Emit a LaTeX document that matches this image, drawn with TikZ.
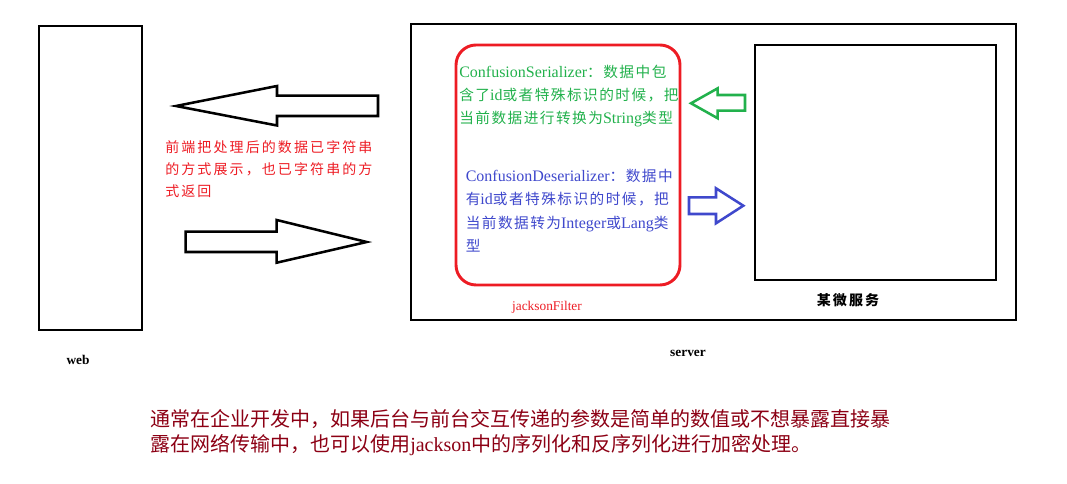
\documentclass[tikz,border=0pt]{standalone}
\usepackage{fontspec}
\setmainfont{Liberation Serif}
\newfontfamily\cjk[LetterSpace=15]{Noto Sans CJK SC}
\newfontfamily\cjkmid[LetterSpace=10]{Noto Sans CJK SC}
\newfontfamily\cjkplain{Noto Sans CJK SC}
\newcommand\lat[1]{{\rmfamily\fontsize{12}{17.5}\selectfont #1}}
\definecolor{paintred}{RGB}{237,28,36}
\definecolor{paintgreen}{RGB}{34,177,76}
\definecolor{paintblue}{RGB}{63,72,204}
\definecolor{notered}{RGB}{140,0,20}
\tikzset{
  frame/.style={line width=2.2pt},
  blockarrow/.style={line width=1.9pt, line join=miter},
  note/.style={anchor=north west, inner sep=0pt, align=left},
  tag/.style={inner sep=0pt, font=\fontsize{10}{12}\selectfont\bfseries},
}
\begin{document}
\begin{tikzpicture}[x=0.75pt,y=-0.75pt]
\useasboundingbox (0,0) rectangle (1067,484);
% web side
\draw[frame] (39,26) rectangle (142,330);
\node[tag] (web) at (78,360) {web};
\draw[blockarrow] (176,106) -- (277,86) -- (277,95.7) -- (378,95.7) -- (378,116) -- (277,116) -- (277,125.5) -- cycle;
\draw[blockarrow] (185.7,231.7) -- (276.7,231.7) -- (276.7,220) -- (366.7,242) -- (276.7,262.7) -- (276.7,252) -- (185.7,252) -- cycle;
\node[note, text=paintred, font=\cjk\fontsize{10.5}{16.6}\selectfont] (back) at (165,140.5)
  {前端把处理后的数据已字符串\\的方式展示，也已字符串的方\\式返回};
% server side
\draw[frame] (411,24) rectangle (1016,320);
\node[tag] (server) at (688,353) {server};
\draw[paintred, frame, rounded corners=15pt] (456,45) rectangle (680,285);
\node[inner sep=0pt, text=paintred, font=\fontsize{10}{12}\selectfont] (filter) at (547,307) {jacksonFilter};
\node[note, text=paintgreen, font=\cjkmid\fontsize{11}{17.5}\selectfont] (ser) at (459,64.5)
  {\lat{ConfusionSerializer}：数据中包\\含了\lat{id}或者特殊标识的时候，把\\当前数据进行转换为\lat{String}类型};
\node[note, text=paintblue, font=\cjkmid\fontsize{11}{17.5}\selectfont] (deser) at (465.5,169)
  {\lat{ConfusionDeserializer}：数据中\\有\lat{id}或者特殊标识的时候，把\\当前数据转为\lat{Integer}或\lat{Lang}类\\型};
\draw[paintgreen, blockarrow] (691,103.3) -- (717.7,88.3) -- (717.7,95) -- (745,95) -- (745,110.7) -- (717.7,110.7) -- (717.7,118.3) -- cycle;
\draw[paintblue, blockarrow] (689,197.3) -- (716,197.3) -- (716,188.3) -- (743.3,205.7) -- (716,223.3) -- (716,214) -- (689,214) -- cycle;
\draw[frame] (755,45) rectangle (996,280);
\node[inner sep=0pt, font=\cjk\fontsize{10.5}{12}\selectfont\bfseries] (service) at (848,300) {某微服务};
% summary
\node[note, text=notered, font=\cjkplain\fontsize{15}{19}\selectfont] (summary) at (150,409)
  {通常在企业开发中，如果后台与前台交互传递的参数是简单的数值或不想暴露直接暴\\露在网络传输中，也可以使用{\rmfamily jackson}中的序列化和反序列化进行加密处理。};
\end{tikzpicture}
\end{document}
